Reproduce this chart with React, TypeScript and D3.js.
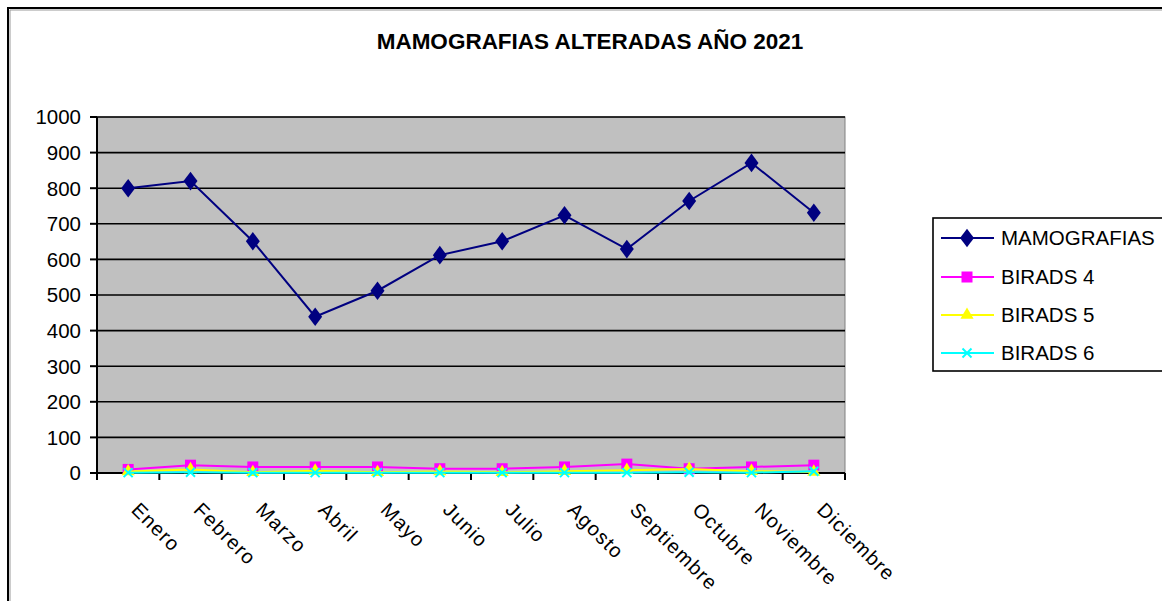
import React from "react";
import * as d3 from "d3";

const months = [
  "Enero", "Febrero", "Marzo", "Abril", "Mayo", "Junio",
  "Julio", "Agosto", "Septiembre", "Octubre", "Noviembre", "Diciembre",
];
const mamografias = [800, 820, 651, 439, 512, 612, 651, 724, 629, 764, 871, 731];
const birads4 = [10, 22, 17, 17, 17, 12, 12, 17, 25, 12, 17, 22];
const birads5 = [4, 10, 2, 6, 2, 4, 2, 5, 8, 11, 5, 3];
const birads6 = [1, 2, 1, 1, 1, 1, 1, 1, 1, 2, 1, 5];
const yTicks = [0, 100, 200, 300, 400, 500, 600, 700, 800, 900, 1000];

const FONT = "'Liberation Sans', Arial, sans-serif";

const series = [
  { name: "MAMOGRAFIAS", values: mamografias, color: "#000080", marker: "diamond" },
  { name: "BIRADS 4", values: birads4, color: "#FF00FF", marker: "square" },
  { name: "BIRADS 5", values: birads5, color: "#FFFF00", marker: "triangle" },
  { name: "BIRADS 6", values: birads6, color: "#00FFFF", marker: "cross" },
];

// plot box
const left = 97;
const right = 845;
const top = 117;
const bottom = 473;

function Marker({ type, x, y, color }: { type: string; x: number; y: number; color: string }) {
  if (type === "diamond") {
    const p = d3.symbol(d3.symbolDiamond, 100)();
    return <path d={p || ""} transform={`translate(${x},${y}) scale(1.3,1)`} fill={color} />;
  }
  if (type === "square") {
    return <rect x={x - 5.5} y={y - 5.5} width={11} height={11} fill={color} />;
  }
  if (type === "triangle") {
    const p = d3.symbol(d3.symbolTriangle, 75)();
    return <path d={p || ""} transform={`translate(${x},${y})`} fill={color} />;
  }
  return (
    <g stroke={color} strokeWidth={2}>
      <line x1={x - 4.5} y1={y - 4.5} x2={x + 4.5} y2={y + 4.5} />
      <line x1={x - 4.5} y1={y + 4.5} x2={x + 4.5} y2={y - 4.5} />
    </g>
  );
}

export default function App() {
  const x = d3.scaleBand<string>().domain(months).range([left, right]);
  const cx = (m: string) => (x(m) as number) + x.bandwidth() / 2;
  const y = d3.scaleLinear().domain([0, 1000]).range([bottom, top]);

  const line = d3
    .line<number>()
    .x((d, i) => cx(months[i]))
    .y((d) => y(d));

  const boundaries = d3.range(months.length + 1).map((i) => left + i * x.step());

  const legendRows = [238, 277, 315, 353];

  return (
    <div style={{ position: "fixed", left: 0, top: 0, width: 1162, height: 601, overflow: "hidden", background: "#fff" }}>
      <svg width={1162} height={601} style={{ display: "block" }}>
        {/* chart border, runs off the page on the right and bottom */}
        <rect x={8} y={8} width={1200} height={700} fill="#fff" stroke="#000" strokeWidth={2} />
        <path d="M10,700 V10 H1200" fill="none" stroke="#999" strokeWidth={1} />

        <text x={590} y={49} textAnchor="middle" fontFamily={FONT} fontWeight="bold" fontSize={22.5} fill="#000">
          MAMOGRAFIAS ALTERADAS AÑO 2021
        </text>

        {/* plot area */}
        <rect x={left} y={top} width={right - left} height={bottom - top} fill="#C0C0C0" stroke="#808080" strokeWidth={1} />
        {yTicks.filter((t) => t > 0).map((t) => (
          <line key={t} x1={left} x2={right} y1={y(t)} y2={y(t)} stroke="#000" strokeWidth={1.6} />
        ))}

        {/* axes */}
        <line x1={left} x2={left} y1={top} y2={bottom} stroke="#000" strokeWidth={2} />
        <line x1={left} x2={right} y1={bottom} y2={bottom} stroke="#000" strokeWidth={2} />
        {yTicks.map((t) => (
          <g key={t}>
            <line x1={left - 7} x2={left} y1={y(t)} y2={y(t)} stroke="#000" strokeWidth={2} />
            <text x={81} y={y(t)} dy="0.36em" textAnchor="end" fontFamily={FONT} fontSize={20.5} fill="#000">
              {t}
            </text>
          </g>
        ))}
        {boundaries.map((bx, i) => (
          <line key={i} x1={bx} x2={bx} y1={bottom} y2={bottom + 7} stroke="#000" strokeWidth={2} />
        ))}
        {months.map((m) => (
          <text
            key={m}
            transform={`translate(${cx(m) + 2},${511}) rotate(45)`}
            fontFamily={FONT}
            fontSize={20}
            letterSpacing={1.2}
            fill="#000"
          >
            {m}
          </text>
        ))}

        {/* series */}
        {series.map((s) => (
          <g key={s.name}>
            <path d={line(s.values) || ""} fill="none" stroke={s.color} strokeWidth={2} />
            {s.values.map((v, i) => (
              <Marker key={i} type={s.marker} x={cx(months[i])} y={y(v)} color={s.color} />
            ))}
          </g>
        ))}

        {/* legend */}
        <rect x={933} y={218} width={240} height={153} fill="#fff" stroke="#000" strokeWidth={1.6} />
        {series.map((s, i) => (
          <g key={s.name}>
            <line x1={941} x2={994} y1={legendRows[i]} y2={legendRows[i]} stroke={s.color} strokeWidth={2} />
            <Marker type={s.marker} x={967} y={legendRows[i]} color={s.color} />
            <text x={1001} y={legendRows[i]} dy="0.36em" fontFamily={FONT} fontSize={20.5} fill="#000">
              {s.name}
            </text>
          </g>
        ))}
      </svg>
    </div>
  );
}
